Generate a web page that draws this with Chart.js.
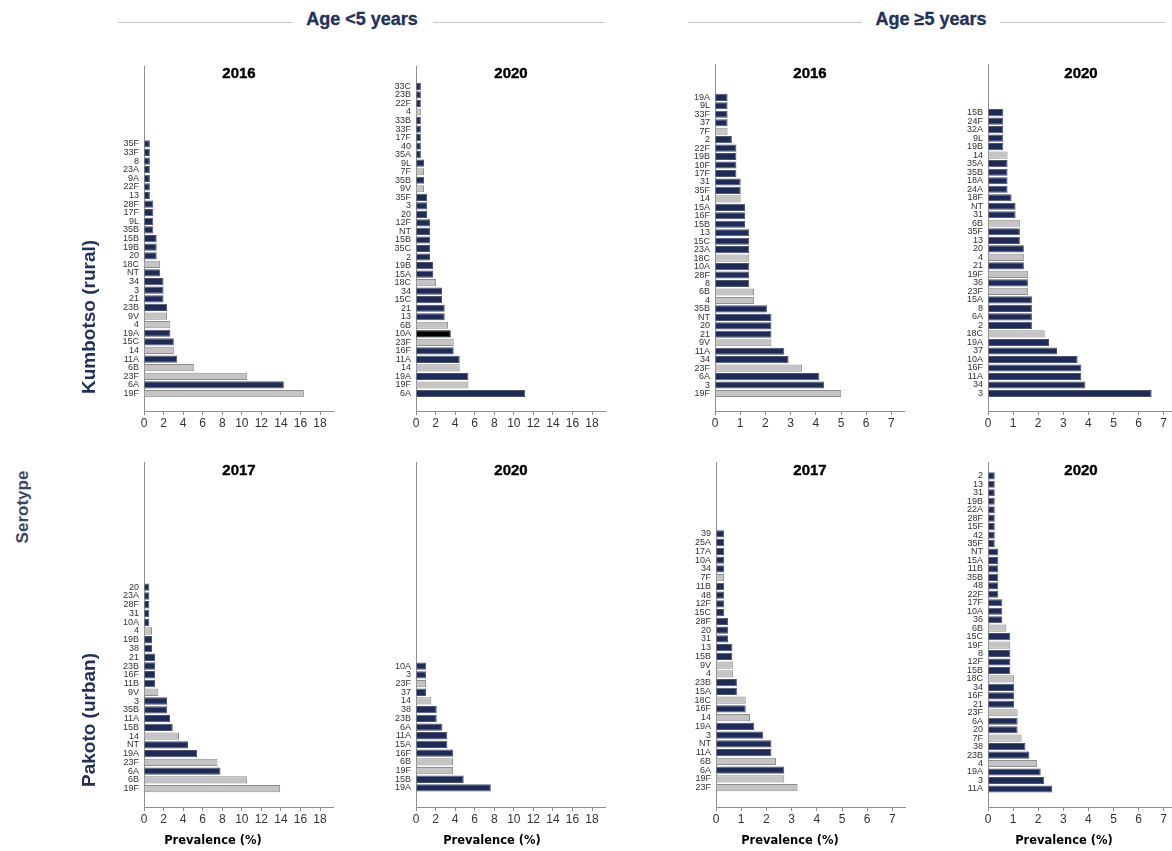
<!DOCTYPE html>
<html><head><meta charset="utf-8">
<script src="https://cdn.jsdelivr.net/npm/chart.js@4.4.1/dist/chart.umd.min.js"></script>
<style>
body{margin:0;background:#fff;}
#wrap{position:relative;width:1172px;height:851px;overflow:hidden;font-family:"Liberation Sans",Arial,sans-serif;background:#fff;}
#wrap canvas{position:absolute;}
.t{position:absolute;white-space:nowrap;transform:translate(-50%,-50%);line-height:1;}
.hdr{font-weight:bold;font-size:18px;color:#22305c;-webkit-text-stroke:0.3px #22305c;}
.pt{font-weight:bold;font-size:15px;color:#000;-webkit-text-stroke:0.4px #000;}
.row{font-weight:bold;font-size:19px;color:#22305c;transform:translate(-50%,-50%) rotate(-90deg);}
.ser{font-weight:bold;font-size:17px;color:#3a4769;transform:translate(-50%,-50%) rotate(-90deg);}
.xt{font-family:"DejaVu Sans",sans-serif;font-weight:bold;font-size:11.5px;color:#000;}
.ln{position:absolute;height:0;border-top:1.5px solid #c6c6c6;}
</style></head><body><div id="wrap"></div>
<script>
// ---------- DATA ----------
// Kumbotso (rural), age <5 years, 2016
const k5_2016_cats = ['35F','33F','8','23A','9A','22F','13','28F','17F','9L','35B','15B','19B','20','18C','NT','34','3','21','23B','9V','4','19A','15C','14','11A','6B','23F','6A','19F'];
const k5_2016_vals = [0.6,0.6,0.6,0.6,0.6,0.6,0.6,0.95,0.95,0.95,0.95,1.3,1.3,1.3,1.65,1.65,2.0,2.0,2.0,2.35,2.35,2.7,2.7,3.05,3.05,3.4,5.1,10.55,14.3,16.35];
// Kumbotso (rural), age <5 years, 2020
const k5_2020_cats = ['33C','23B','22F','4','33B','33F','17F','40','35A','9L','7F','35B','9V','35F','3','20','12F','NT','15B','35C','2','19B','15A','18C','34','15C','21','13','6B','10A','23F','16F','11A','14','19A','19F','6A'];
const k5_2020_vals = [0.5,0.5,0.5,0.5,0.5,0.5,0.5,0.5,0.5,0.82,0.82,0.82,0.82,1.13,1.13,1.13,1.43,1.43,1.43,1.43,1.43,1.74,1.74,2.05,2.66,2.66,2.94,2.94,3.28,3.55,3.86,3.86,4.47,4.47,5.36,5.36,11.16];
// Kumbotso (rural), age >=5 years, 2016
const ko5_2016_cats = ['19A','9L','33F','37','7F','2','22F','19B','10F','17F','31','35F','14','15A','16F','15B','13','15C','23A','18C','10A','28F','8','6B','4','35B','NT','20','21','9V','11A','34','23F','6A','3','19F'];
const ko5_2016_vals = [0.5,0.5,0.5,0.5,0.5,0.67,0.85,0.85,0.85,0.85,1.02,1.02,1.02,1.19,1.19,1.19,1.36,1.36,1.36,1.36,1.36,1.36,1.36,1.55,1.55,2.06,2.24,2.24,2.24,2.24,2.75,2.92,3.45,4.14,4.33,5.01];
// Kumbotso (rural), age >=5 years, 2020
const ko5_2020_cats = ['15B','24F','32A','9L','19B','14','35A','35B','18A','24A','18F','NT','31','6B','35F','13','20','4','21','19F','36','23F','15A','8','6A','2','18C','19A','37','10A','16F','11A','34','3'];
const ko5_2020_vals = [0.61,0.61,0.61,0.61,0.61,0.78,0.78,0.78,0.78,0.78,0.94,1.1,1.1,1.27,1.27,1.27,1.43,1.43,1.43,1.59,1.59,1.59,1.75,1.75,1.75,1.75,2.26,2.43,2.75,3.57,3.72,3.72,3.88,6.52];
// Pakoto (urban), age <5 years, 2017
const p5_2017_cats = ['20','23A','28F','31','10A','4','19B','38','21','23B','16F','11B','9V','3','35B','11A','15B','14','NT','19A','23F','6A','6B','19F'];
const p5_2017_vals = [0.55,0.55,0.55,0.55,0.55,0.82,0.82,0.82,1.13,1.13,1.13,1.13,1.47,2.35,2.35,2.66,2.94,3.58,4.5,5.43,7.51,7.82,10.55,13.92];
// Pakoto (urban), age <5 years, 2020
const p5_2020_cats = ['10A','3','23F','37','14','38','23B','6A','11A','15A','16F','6B','19F','15B','19A'];
const p5_2020_vals = [1.02,1.02,1.02,1.02,1.57,2.12,2.12,2.7,3.21,3.21,3.79,3.79,3.79,4.88,7.65];
// Pakoto (urban), age >=5 years, 2017
const po5_2017_cats = ['39','25A','17A','10A','34','7F','11B','48','12F','15C','28F','20','31','13','15B','9V','4','23B','15A','18C','16F','14','19A','3','NT','11A','6B','6A','19F','23F'];
const po5_2017_vals = [0.32,0.32,0.32,0.32,0.32,0.32,0.32,0.32,0.32,0.32,0.48,0.48,0.48,0.65,0.65,0.67,0.67,0.83,0.83,1.18,1.18,1.35,1.52,1.87,2.2,2.2,2.38,2.71,2.71,3.24];
// Pakoto (urban), age >=5 years, 2020
const po5_2020_cats = ['2','13','31','19B','22A','28F','15F','42','35F','NT','15A','11B','35B','48','22F','17F','10A','36','6B','15C','19F','8','12F','15B','18C','34','16F','21','23F','6A','20','7F','38','23B','4','19A','3','11A'];
const po5_2020_vals = [0.27,0.27,0.27,0.27,0.27,0.27,0.27,0.27,0.27,0.41,0.41,0.41,0.41,0.41,0.41,0.57,0.57,0.57,0.73,0.89,0.89,0.89,0.89,0.89,1.04,1.04,1.04,1.04,1.18,1.18,1.18,1.34,1.49,1.65,1.95,2.1,2.24,2.55];

// serotypes drawn in grey (vaccine types) and highlighted bars
const vaccineTypes = ['1','4','5','6B','7F','9V','14','18C','19F','23F'];
const highlighted = {k5_2020: ['10A']};

const panelTitles = ['2016','2020','2016','2020','2017','2020','2017','2020'];
const xTicksYoung = [0,2,4,6,8,10,12,14,16,18];
const xTicksOld = [0,1,2,3,4,5,6,7];

// ---------- STYLE / LAYOUT ----------
const NAVY='#1e2a58', NAVY_B='#4d5470', GRAY='#c4c4c4', GRAY_B='#8e8e8e', HI='#000000';
const AXC='#8e8e8e';
const YW=46, PADT=6;
const panels = [
 {key:'k5_2016', cats:k5_2016_cats, vals:k5_2016_vals, ax:144, top:62, bottom:411, slot:8.72, bpad:17.7, ppu:9.78, max:19.3, ticks:xTicksYoung, padR:12},
 {key:'k5_2020', cats:k5_2020_cats, vals:k5_2020_vals, ax:416, top:62, bottom:411, slot:8.64, bpad:17.7, ppu:9.78, max:19.3, ticks:xTicksYoung, padR:12},
 {key:'ko5_2016', cats:ko5_2016_cats, vals:ko5_2016_vals, ax:715, top:60, bottom:411, slot:8.57, bpad:17.7, ppu:25.2, max:7.5, ticks:xTicksOld, padR:12},
 {key:'ko5_2020', cats:ko5_2020_cats, vals:ko5_2020_vals, ax:988, top:60, bottom:411, slot:8.62, bpad:17.7, ppu:25.1, max:7.5, ticks:xTicksOld, padR:0},
 {key:'p5_2017', cats:p5_2017_cats, vals:p5_2017_vals, ax:144, top:458, bottom:807, slot:8.87, bpad:18.6, ppu:9.78, max:19.3, ticks:xTicksYoung, padR:12},
 {key:'p5_2020', cats:p5_2020_cats, vals:p5_2020_vals, ax:416, top:458, bottom:807, slot:8.81, bpad:19.3, ppu:9.78, max:19.3, ticks:xTicksYoung, padR:12},
 {key:'po5_2017', cats:po5_2017_cats, vals:po5_2017_vals, ax:716, top:458, bottom:807, slot:8.86, bpad:19.6, ppu:25.2, max:7.5, ticks:xTicksOld, padR:12},
 {key:'po5_2020', cats:po5_2020_cats, vals:po5_2020_vals, ax:988, top:458, bottom:807, slot:8.57, bpad:18.3, ppu:25.1, max:7.5, ticks:xTicksOld, padR:0},
];

const wrap = document.getElementById('wrap');
function addText(cls, txt, x, y){
  const d=document.createElement('div'); d.className='t '+cls; d.textContent=txt;
  d.style.left=x+'px'; d.style.top=y+'px'; wrap.appendChild(d);
}
function addLine(x1,x2,y){
  const d=document.createElement('div'); d.className='ln';
  d.style.left=x1+'px'; d.style.width=(x2-x1)+'px'; d.style.top=y+'px'; wrap.appendChild(d);
}

panels.forEach((p,pi)=>{
  const n=p.cats.length;
  const plotH=p.bottom-p.top;
  const plotW=Math.round(p.max*p.ppu);
  const XH=30;
  const W=YW+plotW+p.padR, H=PADT+plotH+XH;
  const cv=document.createElement('canvas');
  cv.width=W; cv.height=H;
  cv.style.left=(p.ax-YW)+'px'; cv.style.top=(p.top-PADT)+'px';
  cv.style.width=W+'px'; cv.style.height=H+'px';
  wrap.appendChild(cv);
  const hi = highlighted[p.key]||[];
  const fill = p.cats.map(c=> hi.includes(c)?HI : (vaccineTypes.includes(c)?GRAY:NAVY));
  const bord = p.cats.map(c=> hi.includes(c)?'#000' : (vaccineTypes.includes(c)?GRAY_B:NAVY_B));
  const ymin=-p.bpad/p.slot, ymax=ymin+plotH/p.slot;
  new Chart(cv,{
    type:'bar',
    data:{datasets:[{
      data:p.vals.map((v,i)=>({x:v,y:n-1-i})),
      backgroundColor:fill, borderColor:bord, borderWidth:1,
      barPercentage:0.84, categoryPercentage:1
    }]},
    options:{
      indexAxis:'y', responsive:false, animation:false,
      layout:{padding:{top:PADT,right:p.padR,left:0,bottom:0}},
      plugins:{legend:{display:false},tooltip:{enabled:false},title:{display:false}},
      scales:{
        y:{type:'linear',min:ymin,max:ymax,offset:false,
          afterBuildTicks:s=>{ s.ticks=p.cats.map((c,i)=>({value:n-1-i})); },
          afterFit:s=>{ s.width=YW; },
          grid:{display:false,drawTicks:false,offset:false},
          border:{display:true,color:AXC,width:1},
          ticks:{autoSkip:false,padding:5,color:'#333',font:{family:'"Liberation Sans",Arial,sans-serif',size:9},
            callback:(v)=>p.cats[n-1-v]}
        },
        x:{type:'linear',min:0,max:plotW/p.ppu,offset:false,
          afterBuildTicks:s=>{ s.ticks=p.ticks.map(v=>({value:v})); },
          afterFit:s=>{ s.height=XH; },
          grid:{display:true,drawOnChartArea:false,drawTicks:true,tickLength:4,color:AXC},
          border:{display:true,color:AXC,width:1},
          ticks:{autoSkip:false,maxRotation:0,padding:1,color:'#333',font:{family:'"Liberation Sans",Arial,sans-serif',size:12}}
        }
      }
    }
  });
  const titleX = [239,511,810,1081][pi%4];
  addText('pt', panelTitles[pi], titleX, pi<4?72:469);
});

// headers
addText('hdr','Age <5 years',362,19);
addText('hdr','Age \u22655 years',931,19);
addLine(118,292,22); addLine(433,604,22);
addLine(688,862,22); addLine(1000,1165,22);
// row labels
addText('row','Kumbotso (rural)',88,317);
addText('row','Pakoto (urban)',88,720);
addText('ser','Serotype',22,507);
// x axis titles
[[213,'Prevalence (%)'],[492,'Prevalence (%)'],[790,'Prevalence (%)'],[1064,'Prevalence (%)']].forEach(a=>addText('xt',a[1],a[0],841));
</script></body></html>
